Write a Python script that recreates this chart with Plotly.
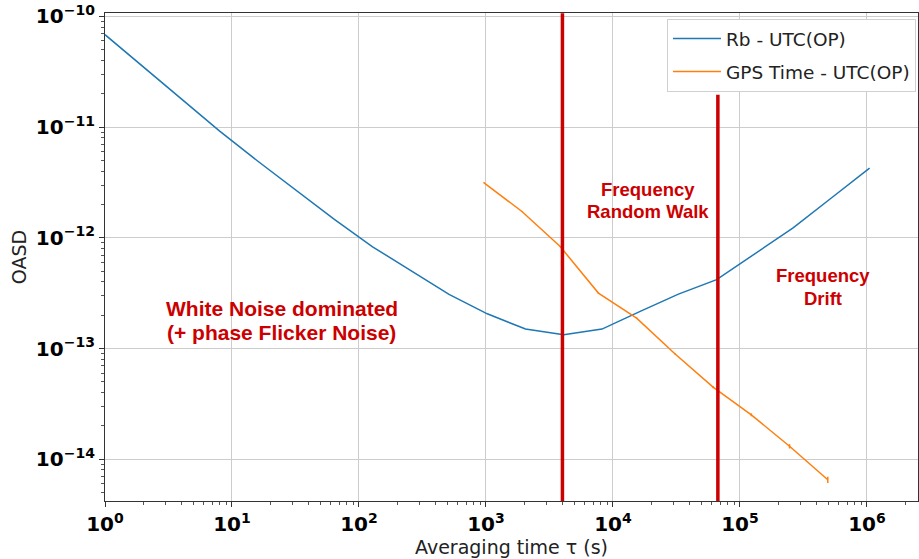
import numpy as np
import plotly.graph_objects as go

# ---------------- data ----------------
rb_tau = [1, 2, 4, 8, 16, 32, 64, 128, 256, 512, 1024, 2048, 4096, 8192,
          16384, 32768, 65536, 131072, 262144, 524288, 1048576]
rb_oasd = [6.84e-11, 3.51e-11, 1.79e-11, 9.2e-12, 4.92e-12, 2.69e-12, 1.47e-12,
           8.3e-13, 5.08e-13, 3.09e-13, 2.06e-13, 1.50e-13, 1.33e-13, 1.50e-13,
           2.17e-13, 3.10e-13, 4.19e-13, 7.2e-13, 1.23e-12, 2.29e-12, 4.27e-12]

gps_tau = [960, 1920, 3840, 7680, 15360, 30720, 61440, 122880, 245760, 491520]
gps_oasd = [3.16e-12, 1.73e-12, 8.35e-13, 3.17e-13, 1.88e-13, 8.97e-14,
            4.49e-14, 2.52e-14, 1.31e-14, 6.53e-15]
gps_err = [2e-14, 1.5e-14, 8e-15, 4e-15, 3e-15, 1.5e-15, 1e-15, 7.6e-16, 5.9e-16, 4.2e-16]

x_tickvals = [1, 10, 100, 1e3, 1e4, 1e5, 1e6]
x_ticktext = ["<b>10<sup>0</sup></b>", "<b>10<sup>1</sup></b>", "<b>10<sup>2</sup></b>",
              "<b>10<sup>3</sup></b>", "<b>10<sup>4</sup></b>", "<b>10<sup>5</sup></b>",
              "<b>10<sup>6</sup></b>"]
y_tickvals = [1e-10, 1e-11, 1e-12, 1e-13, 1e-14]
y_ticktext = ["<b>10<sup>−10</sup></b>", "<b>10<sup>−11</sup></b>", "<b>10<sup>−12</sup></b>",
              "<b>10<sup>−13</sup></b>", "<b>10<sup>−14</sup></b>"]

# regime boundaries (tau, top of line)
boundary_tau = [4000, 67000]
boundary_top = [1.07e-10, 1.96e-11]
boundary_bottom = 1e-15

region_labels = [
    ("White Noise dominated", 0.2177, 0.3949, 21),
    ("(+ phase Flicker Noise)", 0.2165, 0.3449, 21),
    ("Frequency", 0.6677, 0.6387, 18.5),
    ("Random Walk", 0.6677, 0.5928, 18.5),
    ("Frequency", 0.8828, 0.4611, 18.5),
    ("Drift", 0.8828, 0.4154, 18.5),
]

RED = "#cc0000"

fig = go.Figure()
fig.add_trace(go.Scatter(x=rb_tau, y=rb_oasd, mode="lines", name="Rb - UTC(OP)",
                         legendgroup="rb",
                         line=dict(color="#1f77b4", width=1.5)))
fig.add_trace(go.Scatter(x=gps_tau, y=gps_oasd, mode="lines", name="GPS Time - UTC(OP)",
                         legendgroup="gps",
                         line=dict(color="#ff7f0e", width=1.5),
                         error_y=dict(type="data", array=gps_err, width=0,
                                      thickness=1.5, color="#ff7f0e")))
for t, top in zip(boundary_tau, boundary_top):
    fig.add_trace(go.Scatter(x=[t, t], y=[boundary_bottom, top], mode="lines",
                             line=dict(color=RED, width=3.5),
                             showlegend=False, hoverinfo="skip"))

for text, px, py, fs in region_labels:
    fig.add_annotation(text="<b>" + text + "</b>", xref="paper", yref="paper",
                       x=px, y=py, xanchor="center", yanchor="middle",
                       showarrow=False,
                       font=dict(family="Liberation Sans", size=fs, color=RED))

minor_x = [m * 10 ** e for e in range(0, 7) for m in range(2, 10)]
minor_y = [m * 10.0 ** e for e in range(-15, -9) for m in range(2, 10)]

axis_common = dict(
    type="log", showgrid=True, gridcolor="#cccccc", gridwidth=1,
    showline=True, linecolor="#333333", linewidth=1.2, mirror=True,
    ticks="outside", ticklen=5, tickcolor="#333333", tickwidth=1,
    zeroline=False, automargin=False, ticklabeloverflow="allow",
    tickfont=dict(family="DejaVu Sans", size=20, color="black"),
)

fig.update_xaxes(**axis_common, range=[0, 6.402], tickmode="array",
                 tickvals=x_tickvals, ticktext=x_ticktext,
                 minor=dict(tickmode="array", tickvals=minor_x, ticks="outside",
                            ticklen=3, tickcolor="#555555", showgrid=False),
                 title=dict(text="Averaging time τ (s)", standoff=4,
                            font=dict(family="DejaVu Sans", size=19, color="#222222")))
fig.update_yaxes(**axis_common, range=[-14.377, -9.969], tickmode="array",
                 tickvals=y_tickvals, ticktext=y_ticktext,
                 minor=dict(tickmode="array", tickvals=minor_y, ticks="outside",
                            ticklen=3, tickcolor="#555555", showgrid=False),
                 title=dict(text="OASD", standoff=4,
                            font=dict(family="DejaVu Sans", size=19, color="#222222")))

fig.update_layout(
    width=919, height=559,
    margin=dict(l=105, r=1, t=13, b=58),
    plot_bgcolor="white", paper_bgcolor="white",
    showlegend=True,
    legend=dict(x=0.9975, y=0.988, xanchor="right", yanchor="top",
                bgcolor="white", bordercolor="#d0d0d0", borderwidth=1,
                font=dict(family="DejaVu Sans", size=18.5, color="#222222"),
                tracegroupgap=6, itemwidth=48),
)

# remove the default 8px page margin so the figure sits at the window's corner
fig.write_html("out.html", config={"displayModeBar": False},
               post_script="document.body.style.margin='0px';")
